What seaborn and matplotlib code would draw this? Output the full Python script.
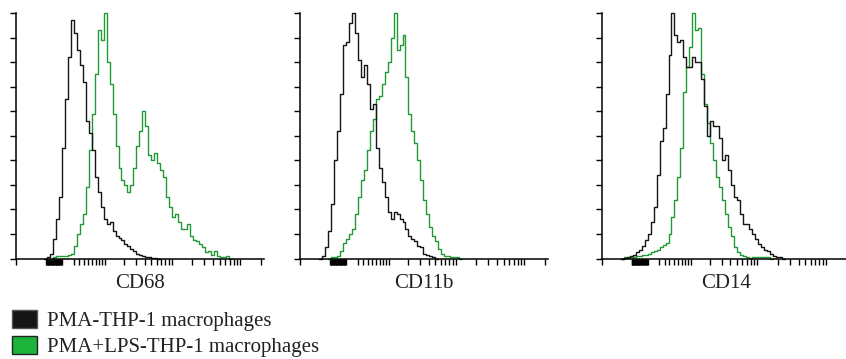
import numpy as np
import pandas as pd
import matplotlib
matplotlib.use("Agg")
import matplotlib.pyplot as plt
import seaborn as sns
from matplotlib.patches import Patch
from matplotlib.ticker import FixedLocator, NullFormatter

# ---------------- data (percent of max per channel) ----------------
markers = ["CD68", "CD11b", "CD14"]
groups = ["PMA-THP-1 macrophages", "PMA+LPS-THP-1 macrophages"]

# first channel index of each series (channel width = 0.1 asinh units)
cd68_ctrl_start = -5
cd68_ctrl = [0.5, 2, 8, 16, 25, 45, 65, 82, 97, 92, 85, 79, 72, 56, 51, 44, 33, 27,
             21, 16, 14, 15, 11, 9, 8.5, 7.5, 6, 5, 4, 3, 2, 1.5, 1, 0.8, 0.5, 0.3, 0.2]
cd68_lps_start = -3
cd68_lps = [0.5, 1, 1, 1, 1, 1.5, 2, 5, 10, 14, 18, 29, 44, 59, 75, 93, 89, 100, 80, 71,
            59, 46, 37, 32, 30, 27, 30, 37, 46, 52, 60, 54, 42, 40, 43, 39, 36, 33, 25,
            21, 17, 18, 15, 12, 12, 14, 9, 7.5, 7, 6, 4.5, 2.5, 3, 1.5, 3, 1, 0.5, 0.5, 1]

cd11b_ctrl_start = -8
cd11b_ctrl = [1, 4.5, 11, 22, 40, 52, 67, 87, 88, 96, 100, 92, 81, 74, 79, 71, 61,
              63, 45, 37, 31, 25, 19, 16, 19, 18, 16, 15, 12, 9, 8, 7, 5, 4.5, 2, 1.5,
              1, 0.5]
cd11b_lps_start = -5
cd11b_lps = [0.5, 0.5, 1, 3, 6.5, 8, 10, 12, 18, 25, 32, 36, 44, 52, 57, 65, 66, 71,
             76, 80, 90, 100, 85, 87, 91, 74, 59, 52, 47, 40, 32, 24, 18, 13, 9, 7, 4,
             2, 1, 1, 0.8, 0.7, 0.5]

cd14_ctrl_start = -8
cd14_ctrl = [0.3, 0.5, 1, 1.5, 2.5, 3.5, 5, 7.5, 10, 15, 21, 34, 48, 53, 67, 83, 100,
             91, 88, 89, 82, 78, 78, 82, 80, 80, 73, 62, 50, 56, 54, 54, 49, 40, 42,
             36, 30, 25, 24, 18, 14, 14, 12, 10, 8, 6, 4.5, 3.5, 3, 2, 1, 0.8, 0.8]
cd14_lps_start = -8
cd14_lps = [0.5, 0.3, 0.5, 0.5, 1, 1, 1.5, 1.5, 2, 2.5, 3, 3.5, 4.5, 5.5, 6.5, 10, 17,
            24, 33, 45, 68, 78, 86, 100, 93, 94, 75, 63, 55, 47, 40, 33, 29, 24, 18,
            13, 9, 4.5, 2.5, 1.5, 1, 0.5, 0.3, 0.5, 0.7, 0.7, 0.7, 0.7, 0.5]

series = {
    "CD68": [(cd68_lps_start, cd68_lps), (cd68_ctrl_start, cd68_ctrl)],
    "CD11b": [(cd11b_lps_start, cd11b_lps), (cd11b_ctrl_start, cd11b_ctrl)],
    "CD14": [(cd14_lps_start, cd14_lps), (cd14_ctrl_start, cd14_ctrl)],
}

COF = 50.0      # arcsinh cofactor of the display scale
CH = 0.1        # channel width in arcsinh units


def fwd(x):
    return np.arcsinh(np.asarray(x) / COF)


def inv(t):
    return COF * np.sinh(np.asarray(t))


def build_frame(marker):
    rows = []
    for grp, (start, counts) in zip([groups[1], groups[0]], series[marker]):
        vals = [0.0] + list(counts) + [0.0, 0.0]
        edges = inv(CH * (start - 1 + np.arange(len(vals))))
        for e, v in zip(edges, vals):
            rows.append({"x": e, "y": v, "group": grp})
    return pd.DataFrame(rows)


# ---------------- styling ----------------
sns.set_theme(style="ticks")
plt.rcParams["font.family"] = ["Liberation Serif", "DejaVu Serif"]

black = "#151515"
green_line = "#1f9a36"
green_fill = "#1db33a"
palette = {groups[0]: black, groups[1]: green_line}

W, H = 846, 359
fig = plt.figure(figsize=(W / 100, H / 100), dpi=100)

ax_left_px = [16, 300, 601.7]
ax_w_px = 248
ax_top_px, ax_bot_px = 13, 258.5

xticks = list(range(-28, 1)) + [20, 30, 40, 50, 60, 70, 80, 90] + \
    [100 * i for i in range(1, 10)] + [1000 * i for i in range(1, 10)] + [10000, 20000]

xlo, xhi = inv(-1.546), inv(6.79)

for marker, lpx in zip(markers, ax_left_px):
    ax = fig.add_axes([lpx / W, (H - ax_bot_px) / H, ax_w_px / W,
                       (ax_bot_px - ax_top_px) / H])
    ax.set_xscale("function", functions=(fwd, inv))
    df = build_frame(marker)
    sns.lineplot(data=df, x="x", y="y", hue="group", hue_order=[groups[1], groups[0]],
                 palette=palette, estimator=None, sort=False, drawstyle="steps-post",
                 linewidth=1.0, legend=False, ax=ax)
    for ln in ax.lines:
        ln.set_clip_on(False)
    ax.set_xlim(xlo, xhi)
    ax.set_ylim(0, 100)
    ax.xaxis.set_major_locator(FixedLocator([xlo] + xticks))
    ax.xaxis.set_minor_locator(FixedLocator([]))
    ax.xaxis.set_major_formatter(NullFormatter())
    ax.yaxis.set_major_locator(FixedLocator(np.arange(0, 101, 10)))
    ax.yaxis.set_major_formatter(NullFormatter())
    ax.tick_params(axis="x", direction="out", length=4.5, width=1.0, color="black")
    ax.tick_params(axis="y", direction="out", length=4.5, width=1.0, color="black")
    for s in ["top", "right"]:
        ax.spines[s].set_visible(False)
    for s in ["left", "bottom"]:
        ax.spines[s].set_linewidth(1.1)
        ax.spines[s].set_color("black")
    ax.set_xlabel(marker, fontsize=15, color="#222222", labelpad=3)
    ax.set_ylabel("")
    ax.set_facecolor("white")

handles = [Patch(facecolor=black, edgecolor="#555555", linewidth=1.0),
           Patch(facecolor=green_fill, edgecolor="#222222", linewidth=1.0)]
fig.legend(handles=handles, labels=groups, loc="upper left",
           bbox_to_anchor=(12 / W, 1 - 310 / H), frameon=False, fontsize=15,
           handlelength=1.18, handleheight=0.92, handletextpad=0.5,
           labelspacing=0.25, borderpad=0, borderaxespad=0, labelcolor="#222222")

fig.savefig("out.png", dpi=100, facecolor="white")
